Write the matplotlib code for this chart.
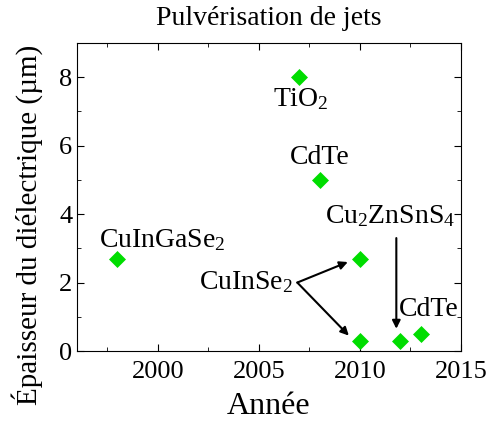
import matplotlib
matplotlib.use("Agg")
import matplotlib.pyplot as plt
from matplotlib.ticker import MultipleLocator

plt.rcParams['font.family'] = ['Liberation Serif', 'DejaVu Serif']
plt.rcParams['mathtext.fontset'] = 'custom'
plt.rcParams['mathtext.rm'] = 'Liberation Serif'
plt.rcParams['mathtext.it'] = 'Liberation Serif:italic'

years = [1998, 2007, 2008, 2010, 2010, 2012, 2013]
thickness = [2.7, 8.0, 5.0, 2.7, 0.3, 0.3, 0.5]

fig = plt.figure(figsize=(4.89, 4.26), dpi=100)
ax = fig.add_axes([77/489, 1-351/426, (461-77)/489, (351-43)/426])
ax.scatter(years, thickness, marker='D', s=75, color='#00dd00', zorder=3, linewidths=0)

ax.set_xlim(1996, 2015)
ax.set_ylim(0, 9)
ax.xaxis.set_major_locator(MultipleLocator(5))
ax.xaxis.set_minor_locator(MultipleLocator(2.5))
ax.yaxis.set_major_locator(MultipleLocator(2))
ax.yaxis.set_minor_locator(MultipleLocator(1))
ax.tick_params(which='both', direction='in', top=True, right=True, labelsize=19)
ax.tick_params(axis='x', which='major', pad=7)
ax.tick_params(which='major', length=5)
ax.tick_params(which='minor', length=3)
ax.set_xticks([2000, 2005, 2010, 2015])

ax.set_title('Pulvérisation de jets', fontsize=20, pad=13)
ax.set_xlabel('Année', fontsize=23, labelpad=7)
ax.set_ylabel('Épaisseur du diélectrique (µm)', fontsize=21)
ax.yaxis.set_label_coords(-0.088, 0.41)

fs = 20
ax.text(2007.1, 7.35, r'TiO$_2$', fontsize=fs, ha='center', va='center')
ax.text(2008.0, 5.65, 'CdTe', fontsize=fs, ha='center', va='center')
ax.text(2000.2, 3.25, r'CuInGaSe$_2$', fontsize=fs, ha='center', va='center')
ax.text(2013.4, 1.2, 'CdTe', fontsize=fs, ha='center', va='center')
ax.text(2011.5, 3.95, r'Cu$_2$ZnSnS$_4$', fontsize=fs, ha='center', va='center')
ax.text(2004.35, 2.0, r'CuInSe$_2$', fontsize=fs, ha='center', va='center')

arrow = dict(arrowstyle='-|>', color='black', lw=1.5, mutation_scale=12, shrinkA=0, shrinkB=0)
ax.annotate('', xy=(2009.4, 2.6), xytext=(2006.9, 2.0), arrowprops=arrow)
ax.annotate('', xy=(2009.45, 0.45), xytext=(2006.9, 2.0), arrowprops=arrow)
ax.annotate('', xy=(2011.8, 0.65), xytext=(2011.8, 3.3), arrowprops=arrow)

fig.savefig('out.png', dpi=100)
